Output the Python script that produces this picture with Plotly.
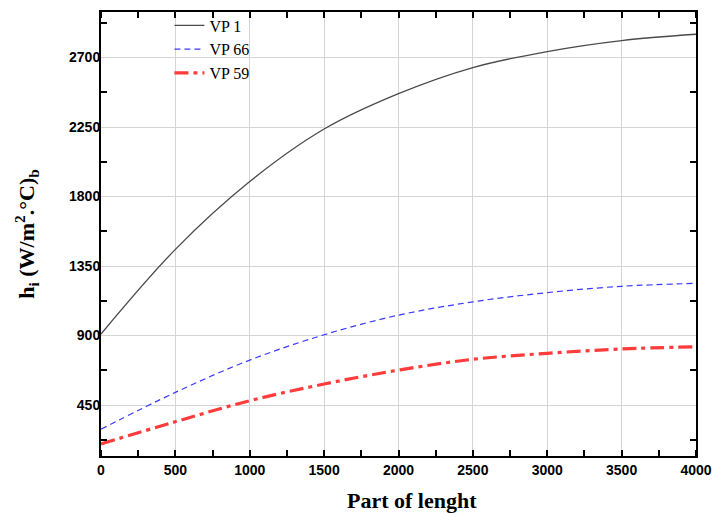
import plotly.graph_objects as go

# 관 길이 방향 위치
x_pos = [0, 500, 1000, 1500, 2000, 2500, 3000, 3500, 4000]

# 열전달계수 h_i (W/m2.C)_b
vp1 = [910, 1458, 1897, 2237, 2466, 2635, 2739, 2810, 2851]
vp66 = [293, 532, 741, 905, 1032, 1118, 1178, 1219, 1238]
vp59 = [198, 342, 478, 586, 676, 746, 785, 813, 827]

x_ticks = [0, 500, 1000, 1500, 2000, 2500, 3000, 3500, 4000]
y_ticks = [450, 900, 1350, 1800, 2250, 2700]

fig = go.Figure()
fig.add_trace(go.Scatter(x=x_pos, y=vp1, name="VP 1", mode="lines",
                         line=dict(color="#4a4a4a", width=1.3, shape="spline")))
fig.add_trace(go.Scatter(x=x_pos, y=vp66, name="VP 66", mode="lines",
                         line=dict(color="#3a3aff", width=1.2, dash="6px,4px", shape="spline")))
fig.add_trace(go.Scatter(x=x_pos, y=vp59, name="VP 59", mode="lines",
                         line=dict(color="#ff3b3b", width=3.2, dash="14px,5px,4px,5px", shape="spline")))

axis_common = dict(
    showline=True, linecolor="black", linewidth=2, mirror="ticks",
    showgrid=True, gridcolor="#d4d4d4", gridwidth=1,
    ticks="", zeroline=False, automargin=False,
    tickfont=dict(family="Liberation Sans, Arial", size=14, color="black", weight="bold"),
    minor=dict(ticks="inside", ticklen=6, tickwidth=1.5, tickcolor="black", showgrid=False),
)

fig.update_xaxes(range=[0, 4000], tickvals=x_ticks, **axis_common)
fig.update_xaxes(minor_dtick=250, minor_tick0=250)
fig.update_yaxes(range=[120, 2995], tickvals=y_ticks, ticklabelstandoff=-4, **axis_common)
fig.update_yaxes(minor_dtick=450, minor_tick0=225)

fig.update_yaxes(title=dict(text="h<sub>i</sub> (W/m<sup>2</sup>.°C)<sub>b</sub>", standoff=28,
                            font=dict(family="Liberation Serif, Times New Roman", size=22,
                                      color="black", weight="bold")))

# x축 제목 (원본처럼 약간 오른쪽)
fig.add_annotation(text="<b>Part of lenght</b>", xref="paper", yref="paper",
                   x=0.523, y=-0.1, yanchor="middle", showarrow=False,
                   font=dict(family="Liberation Serif, Times New Roman", size=22, color="black"))

fig.update_layout(
    width=714, height=513,
    margin=dict(l=101, r=18, t=12, b=57, autoexpand=False),
    plot_bgcolor="white", paper_bgcolor="white",
    legend=dict(x=0.115, y=1.008, xanchor="left", yanchor="top",
                bgcolor="rgba(0,0,0,0)", borderwidth=0, tracegroupgap=3,
                font=dict(family="Liberation Serif, Times New Roman", size=16, color="black")),
)

# 페이지 기본 여백 제거 (그림이 창 왼쪽 위에 붙도록)
fig.write_html("out.html", config={"displayModeBar": False},
               post_script="document.body.style.margin='0';")
